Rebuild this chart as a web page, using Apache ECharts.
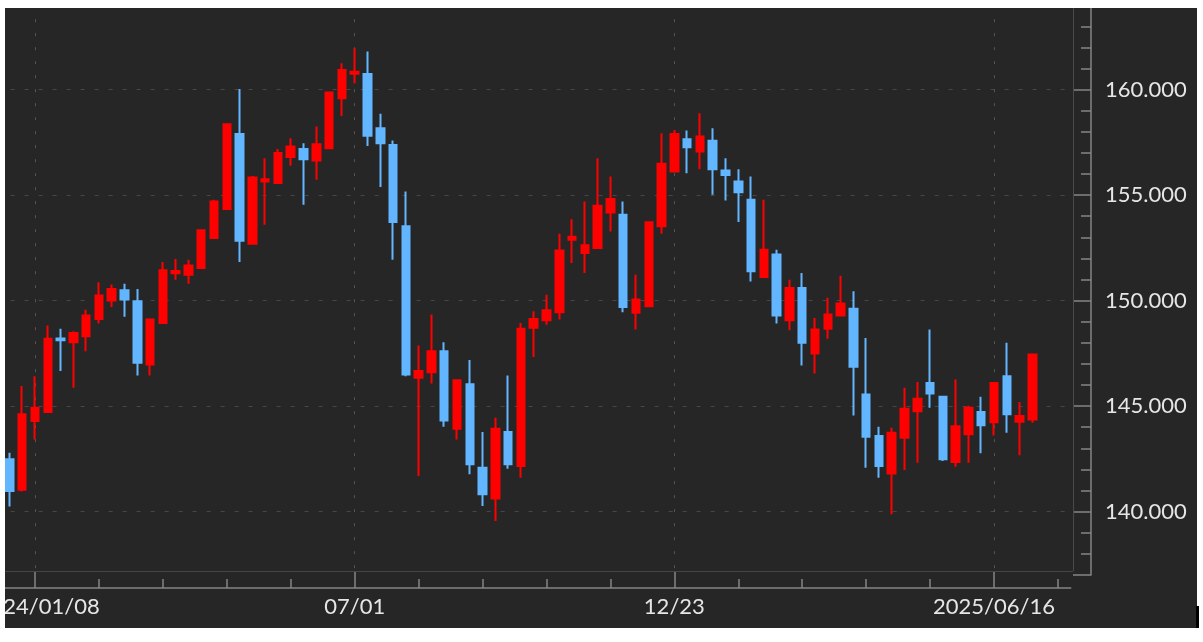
<!DOCTYPE html>
<html><head><meta charset="utf-8">
<script src="https://cdn.jsdelivr.net/npm/echarts@6/dist/echarts.min.js"></script>
<style>html,body{margin:0;padding:0;background:#fff;}#c{width:1203px;height:642px;}</style>
</head><body><div id="c"></div>
<script>
// Weekly categories (Monday dates)
const dates = [
'2023-12-18','2023-12-25','2024-01-01','2024-01-08','2024-01-15','2024-01-22','2024-01-29','2024-02-05','2024-02-12','2024-02-19',
'2024-02-26','2024-03-04','2024-03-11','2024-03-18','2024-03-25','2024-04-01','2024-04-08','2024-04-15','2024-04-22','2024-04-29',
'2024-05-06','2024-05-13','2024-05-20','2024-05-27','2024-06-03','2024-06-10','2024-06-17','2024-06-24','2024-07-01','2024-07-08',
'2024-07-15','2024-07-22','2024-07-29','2024-08-05','2024-08-12','2024-08-19','2024-08-26','2024-09-02','2024-09-09','2024-09-16',
'2024-09-23','2024-09-30','2024-10-07','2024-10-14','2024-10-21','2024-10-28','2024-11-04','2024-11-11','2024-11-18','2024-11-25',
'2024-12-02','2024-12-09','2024-12-16','2024-12-23','2024-12-30','2025-01-06','2025-01-13','2025-01-20','2025-01-27','2025-02-03',
'2025-02-10','2025-02-17','2025-02-24','2025-03-03','2025-03-10','2025-03-17','2025-03-24','2025-03-31','2025-04-07','2025-04-14',
'2025-04-21','2025-04-28','2025-05-05','2025-05-12','2025-05-19','2025-05-26','2025-06-02','2025-06-09','2025-06-16','2025-06-23',
'2025-06-30','2025-07-07','2025-07-14','2025-07-21','2025-07-28'
];
// First candle is the week of 2023-12-25 (category index 1)
const firstCandle = 1;
const openV = [
142.48,141.03,144.29,144.72,148.20,148.03,148.31,149.13,150.00,150.49,
149.97,146.97,148.94,151.30,151.23,151.55,152.97,154.34,157.89,152.70,
155.65,155.57,156.80,157.18,156.64,157.22,159.59,160.75,160.74,158.17,
157.38,153.52,146.34,146.61,147.60,143.93,146.03,142.08,140.62,143.77,
142.16,148.71,149.07,149.45,152.88,152.26,152.49,154.18,154.07,149.42,
149.73,153.52,156.12,157.65,157.07,157.57,156.17,155.65,154.78,151.12,
152.18,149.07,150.60,147.49,148.66,149.29,149.61,145.55,143.58,141.81,
143.50,144.76,146.10,145.44,142.35,143.66,144.72,144.24,146.42,144.26,
144.37
];
const closeV = [
140.98,144.61,144.92,148.19,148.12,148.47,149.29,150.24,150.55,150.05,
147.05,149.10,151.44,151.40,151.66,153.33,154.70,158.36,152.84,155.84,
155.75,156.99,157.30,156.70,157.41,159.86,160.93,160.85,157.81,157.46,
153.72,146.50,146.66,147.60,144.32,146.23,142.24,140.82,143.93,142.24,
148.66,149.13,149.54,152.37,153.03,152.62,154.50,154.81,149.70,150.05,
153.71,156.48,157.90,157.27,157.78,156.23,155.95,155.13,151.39,152.41,
149.29,150.60,148.00,148.63,149.34,149.86,146.86,143.55,142.16,143.74,
144.87,145.35,145.60,142.48,144.05,144.92,144.09,146.10,144.61,144.53,
147.44
];
const lowV = [
140.24,140.95,143.42,144.70,146.66,145.87,147.60,148.91,149.70,149.23,
146.45,146.45,148.90,150.99,150.80,151.50,152.95,154.30,151.83,152.65,
153.60,155.55,156.39,154.54,155.73,157.20,158.75,160.30,157.33,155.38,
151.94,146.42,141.69,146.07,144.02,143.42,141.77,140.27,139.56,142.03,
141.61,147.33,148.86,149.10,151.78,151.31,152.45,153.28,149.45,148.63,
149.70,153.17,156.10,156.04,156.23,155.02,154.75,153.72,150.91,151.10,
148.91,148.60,146.92,146.55,148.19,149.27,144.56,142.08,141.61,139.87,
141.97,142.32,144.92,142.40,142.13,142.32,142.76,143.61,143.74,142.67,
144.21
];
const highV = [
142.79,145.95,146.42,148.82,148.66,148.55,149.57,150.87,150.76,150.80,
150.55,149.15,151.83,151.97,151.94,153.36,154.78,158.40,160.03,155.90,
156.75,157.18,157.70,157.46,158.25,159.90,161.25,161.96,161.80,158.85,
157.59,155.17,147.87,149.34,148.03,146.25,147.18,143.77,144.45,146.45,
148.94,149.50,150.28,153.17,153.86,154.70,156.75,155.88,154.70,151.23,
153.75,157.93,158.09,158.06,158.88,158.17,156.75,156.23,155.88,154.78,
152.41,150.99,151.31,149.18,150.13,151.18,150.44,148.23,144.02,143.97,
145.87,146.14,148.63,145.45,146.26,145.02,145.44,146.12,148.00,145.19,
147.46
];
const labelIndex = [3, 28, 53, 78];
const labelText = ['24/01/08', '07/01', '12/23', '2025/06/16'];
const yMin = 137, yMax = 164;

const seriesData = dates.map((d, i) => {
  const k = i - firstCandle;
  if (k < 0 || k >= openV.length) return '-';
  return [openV[k], closeV[k], lowV[k], highV[k]];
});

const RED = '#ff0000', BLUE = '#62b6ff';
const AX = '#858585', TXT = '#e6e6e6', FONT = 'Lato';
const isLabel = (i) => labelIndex.indexOf(i) >= 0;

const chart = echarts.init(document.getElementById('c'), null, {renderer: 'canvas'});
chart.setOption({
  animation: false,
  backgroundColor: '#262626',
  grid: {left: -3.36, right: 132.25, top: 5.2, bottom: 67.1, containLabel: false, outerBoundsMode: 'none'},
  xAxis: [
    {
      type: 'category', data: dates, boundaryGap: false, position: 'bottom', offset: 13,
      axisLine: {show: true, onZero: false, lineStyle: {color: AX, width: 1.5}},
      axisTick: {show: true, inside: true, length: 9, interval: (i) => i >= 3 && (i - 3) % 5 === 0, lineStyle: {color: AX, width: 1.5}},
      axisLabel: {show: false},
      splitLine: {show: false}
    },
    {
      type: 'category', data: dates, boundaryGap: false, position: 'bottom', offset: 13,
      axisLine: {show: false, onZero: false},
      axisTick: {show: true, inside: true, length: 17, interval: (i) => isLabel(i), lineStyle: {color: AX, width: 1.5}},
      axisLabel: {
        show: true, interval: (i) => isLabel(i), margin: 8,
        color: TXT, fontFamily: FONT, fontSize: 22,
        formatter: (v, i) => {
          const k = labelIndex.indexOf(i);
          if (k < 0) return '';
          return k === 0 ? '{first|' + labelText[k] + '}' : labelText[k];
        },
        rich: {first: {color: TXT, fontFamily: FONT, fontSize: 22, padding: [0, 0, 0, 33]}}
      },
      splitLine: {show: true, interval: (i) => isLabel(i), lineStyle: {color: '#555555', width: 1, type: [3, 11]}}
    }
  ],
  yAxis: [
    {
      type: 'value', min: yMin, max: yMax, splitNumber: 5, position: 'right', offset: 20.25,
      axisLine: {show: true, onZero: false, lineStyle: {color: AX, width: 1.5}},
      axisTick: {show: true, inside: true, length: 18, lineStyle: {color: AX, width: 1.5}},
      axisLabel: {
        show: true, margin: 14, color: TXT, fontFamily: FONT, fontSize: 22,
        formatter: (v) => Math.abs(v - Math.round(v / 5) * 5) < 1e-6 ? v.toFixed(3) : ''
      },
      splitLine: {show: true, showMinLine: false, showMaxLine: false, lineStyle: {color: '#474747', width: 1, type: [4, 10]}}
    },
    {
      type: 'value', min: yMin, max: yMax, interval: 1, position: 'right', offset: 20.25,
      axisLine: {show: false, onZero: false},
      axisTick: {show: true, inside: true, length: 10, lineStyle: {color: AX, width: 1.5}},
      axisLabel: {show: false},
      splitLine: {show: false}
    }
  ],
  series: [{
    type: 'candlestick', xAxisIndex: 0, yAxisIndex: 0, data: seriesData,
    barWidth: 8, clip: false,
    itemStyle: {color: RED, color0: BLUE, borderColor: RED, borderColor0: BLUE, borderWidth: 2}
  }],
  graphic: [
    {type: 'line', shape: {x1: 5, y1: 571.5, x2: 1073, y2: 571.5}, style: {stroke: '#454545', lineWidth: 1}, z: 1, silent: true},
    {type: 'line', shape: {x1: 1073.5, y1: 8, x2: 1073.5, y2: 571}, style: {stroke: '#4a4a4a', lineWidth: 1}, z: 1, silent: true},
    {type: 'rect', shape: {x: 0, y: 0, width: 1203, height: 8}, style: {fill: '#ffffff'}, z: 100, silent: true},
    {type: 'rect', shape: {x: 0, y: 0, width: 5, height: 642}, style: {fill: '#ffffff'}, z: 100, silent: true},
    {type: 'rect', shape: {x: 1197, y: 0, width: 6, height: 642}, style: {fill: '#ffffff'}, z: 100, silent: true},
    {type: 'rect', shape: {x: 0, y: 628, width: 1203, height: 14}, style: {fill: '#ffffff'}, z: 100, silent: true},
    {type: 'rect', shape: {x: 1196, y: 606, width: 3, height: 22}, style: {fill: '#000000'}, z: 101, silent: true}
  ]
});
</script>
</body></html>
